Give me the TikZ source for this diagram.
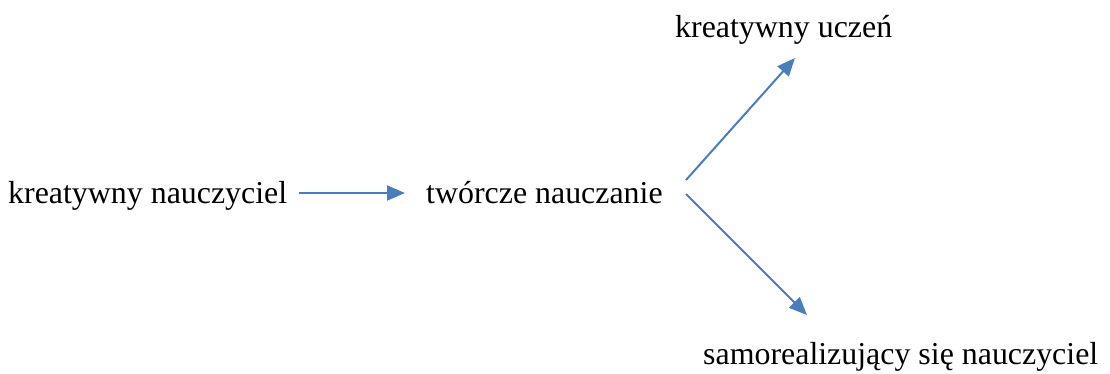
\documentclass[tikz,border=0pt]{standalone}
\usepackage{fontspec}
\setmainfont{Liberation Serif}
\usetikzlibrary{arrows.meta}
\definecolor{flowblue}{HTML}{4A7EBB}
\tikzset{
  label text/.style={inner sep=0pt, anchor=base west, font=\fontsize{31.9}{38}\selectfont},
  flow/.style={draw=flowblue, line width=2pt, -{Triangle[length=18pt,width=15pt]}}
}
\begin{document}
\begin{tikzpicture}[x=1pt,y=-1pt]
  \useasboundingbox (0,0) rectangle (1110,373);
  \node[label text] (teacher) at (8,203) {kreatywny nauczyciel};
  \node[label text] (teaching) at (426,203) {twórcze nauczanie};
  \node[label text] (student) at (675,37) {kreatywny uczeń};
  \node[label text] (selfreal) at (703,364) {samorealizujący się nauczyciel};

  \draw[flow] ([shift={(291,-10)}]teacher.base west) -- ([shift={(-21,-10)}]teaching.base west);
  \draw[flow] ([shift={(260,-23)}]teaching.base west) -- ([shift={(120,21)}]student.base west);
  \draw[flow] ([shift={(260,-9)}]teaching.base west) -- ([shift={(104,-49)}]selfreal.base west);
\end{tikzpicture}
\end{document}
